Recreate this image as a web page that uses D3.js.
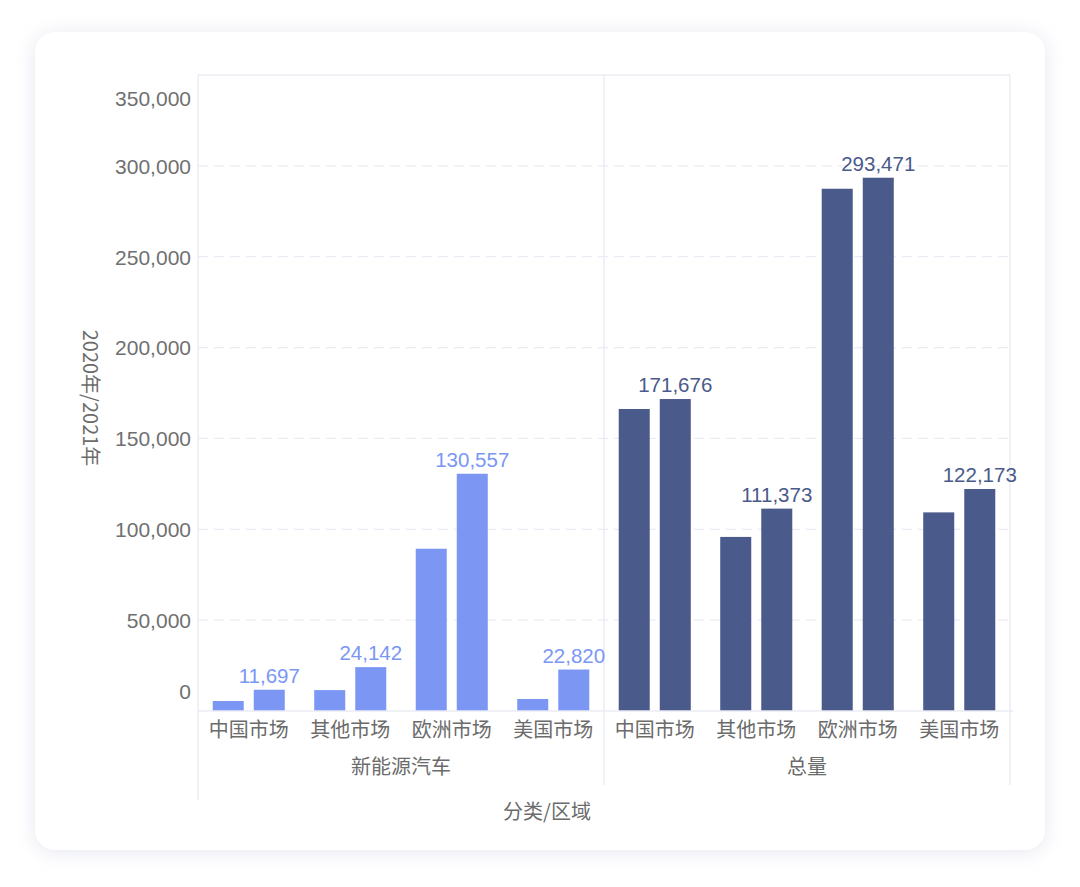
<!DOCTYPE html>
<html>
<head>
<meta charset="utf-8">
<script src="https://cdn.jsdelivr.net/npm/d3@7"></script>
<style>
  html, body { margin: 0; padding: 0; background: #ffffff; }
  body { width: 1080px; height: 887px; overflow: hidden; }
  svg { display: block; font-family: "Liberation Sans", "Noto Sans CJK SC", Arial, sans-serif; }
</style>
</head>
<body>
<svg id="chart" width="1080" height="887"></svg>
<script>
// ---- data ----
const panels = ["新能源汽车", "总量"];
const regions = ["中国市场", "其他市场", "欧洲市场", "美国市场"];
const years = ["2020年", "2021年"];
const values2020 = [
  [5500, 11500, 89300, 6600],      // 新能源汽车
  [166200, 95800, 287400, 109300]  // 总量
];
const values2021 = [
  [11697, 24142, 130557, 22820],
  [171676, 111373, 293471, 122173]
];
const yTicks = [0, 50000, 100000, 150000, 200000, 250000, 300000, 350000];
const panelColors = ["#7b97f3", "#4a5a8b"];
const xTitle = "分类/区域";
const yTitle = "2020年/2021年";

// ---- layout ----
const svg = d3.select("#chart");
const plotL = 198, plotR = 1010, plotT = 75, plotB = 711;

// card
const defs = svg.append("defs");
const f = defs.append("filter").attr("id", "shadow").attr("x", "-10%").attr("y", "-10%").attr("width", "120%").attr("height", "120%");
f.append("feDropShadow").attr("dx", 0).attr("dy", 2).attr("stdDeviation", 10).attr("flood-color", "#c9cce0").attr("flood-opacity", 0.45);
svg.append("rect").attr("x", 35).attr("y", 32).attr("width", 1010).attr("height", 818)
  .attr("rx", 20).attr("fill", "#ffffff").attr("filter", "url(#shadow)");

const y = d3.scaleLinear().domain([0, 350000]).range([plotB, plotT]);
const xPanel = d3.scaleBand().domain(panels).range([plotL, plotR]).paddingInner(0).paddingOuter(0);
const xRegion = d3.scaleBand().domain(regions).range([0, xPanel.bandwidth()]).paddingInner(0.29).paddingOuter(0.145);
const xYear = d3.scaleBand().domain(years).range([0, xRegion.bandwidth()]).paddingInner(0.244).paddingOuter(0);

const gridColor = "#ebebf5";
const fmt = d3.format(",");

// grid lines
const g = svg.append("g");
g.selectAll("line.grid").data(yTicks.filter(t => t > 0 && t < 350000)).join("line")
  .attr("x1", plotL).attr("x2", plotR)
  .attr("y1", d => y(d)).attr("y2", d => y(d))
  .attr("stroke", gridColor).attr("stroke-width", 1.2).attr("stroke-dasharray", "10,6");

// top frame line
g.append("line").attr("x1", plotL).attr("x2", plotR).attr("y1", plotT).attr("y2", plotT)
  .attr("stroke", gridColor).attr("stroke-width", 1.5);
// vertical panel lines
g.append("line").attr("x1", plotL).attr("x2", plotL).attr("y1", plotT).attr("y2", 800)
  .attr("stroke", gridColor).attr("stroke-width", 1.5);
g.append("line").attr("x1", xPanel(panels[1])).attr("x2", xPanel(panels[1])).attr("y1", plotT).attr("y2", 785)
  .attr("stroke", gridColor).attr("stroke-width", 1.5);
g.append("line").attr("x1", plotR).attr("x2", plotR).attr("y1", plotT).attr("y2", 785)
  .attr("stroke", gridColor).attr("stroke-width", 1.5);

// y-axis labels
const yAxis = d3.axisLeft(y).tickValues(yTicks).tickFormat(fmt).tickSize(0).tickPadding(7);
const ya = svg.append("g").attr("transform", `translate(${plotL},0)`).call(yAxis);
ya.select(".domain").remove();
ya.selectAll("text")
  .attr("fill", "#707070").attr("font-size", 21)
  .attr("dy", d => d === 0 ? "-0.6em" : (d === 350000 ? "1.45em" : "0.35em"));

// bars
panels.forEach((p, pi) => {
  const pg = svg.append("g").attr("transform", `translate(${xPanel(p)},0)`);
  regions.forEach((r, ri) => {
    const vals = [values2020[pi][ri], values2021[pi][ri]];
    const rg = pg.append("g").attr("transform", `translate(${xRegion(r)},0)`);
    rg.selectAll("rect").data(vals).join("rect")
      .attr("x", (d, i) => xYear(years[i]))
      .attr("width", xYear.bandwidth())
      .attr("y", d => y(d))
      .attr("height", d => y(0) - y(d))
      .attr("fill", panelColors[pi]);
    rg.append("text")
      .attr("x", xYear(years[1]) + xYear.bandwidth() / 2)
      .attr("y", y(vals[1]) - 7)
      .attr("text-anchor", "middle")
      .attr("font-size", 20.5)
      .attr("fill", panelColors[pi])
      .text(fmt(vals[1]));
  });
  // region labels
  const xa = d3.axisBottom(xRegion).tickSize(0).tickPadding(12);
  const xg = pg.append("g").attr("transform", `translate(0,${plotB})`).call(xa);
  xg.select(".domain").remove();
  xg.selectAll("text").attr("font-size", 20).attr("fill", "#6b6b6b")
    .attr("font-family", "'Noto Sans CJK SC', sans-serif");
  // panel label
  pg.append("text").attr("x", xPanel.bandwidth() / 2).attr("y", 774)
    .attr("text-anchor", "middle").attr("font-size", 20).attr("fill", "#6b6b6b")
    .attr("font-family", "'Noto Sans CJK SC', sans-serif")
    .text(p);
});

// zero baseline
svg.append("line").attr("x1", plotL).attr("x2", plotR + 3).attr("y1", plotB).attr("y2", plotB)
  .attr("stroke", gridColor).attr("stroke-width", 1.5);

// axis titles
svg.append("text").attr("x", 547).attr("y", 819).attr("text-anchor", "middle")
  .attr("font-size", 20).attr("fill", "#6b6b6b")
  .attr("font-family", "'Noto Sans CJK SC', sans-serif").text(xTitle);
svg.append("text").attr("transform", "translate(83,398) rotate(90)")
  .attr("text-anchor", "middle").attr("font-size", 20).attr("fill", "#6b6b6b")
  .attr("font-family", "'Noto Sans CJK SC', sans-serif").text(yTitle);
</script>
</body>
</html>
